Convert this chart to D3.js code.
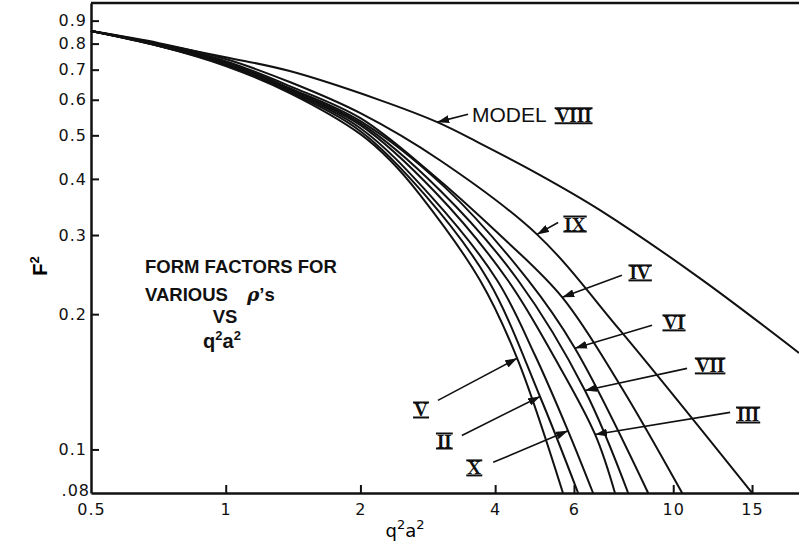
<!DOCTYPE html>
<html>
<head>
<meta charset="utf-8">
<script src="https://cdn.jsdelivr.net/npm/d3@7"></script>
<style>
  body { margin: 0; background: #fff; }
  svg { display: block; }
  .tick text { font-family: "DejaVu Sans", sans-serif; font-size: 16px; letter-spacing: 1px; fill: #111; }
</style>
</head>
<body>
<div id="chart-area"></div>
<script>
// q^2 a^2 vs F^2
var modelVIII = [[0.5,0.853],[1.0,0.746],[1.39,0.695],[2.21,0.599],[2.97,0.535],[3.70,0.480],[5.04,0.408],[6.86,0.341],[11.5,0.240],[19.1,0.164]];
var modelIX   = [[0.5,0.853],[0.71,0.802],[1.0,0.739],[1.39,0.657],[2.0,0.560],[3.01,0.440],[4.96,0.301],[7.61,0.184],[15.0,0.08]];
var modelIV   = [[0.5,0.853],[0.71,0.798],[1.0,0.7314],[1.39,0.6435],[2.0,0.546],[2.86,0.414],[4.10,0.300],[5.65,0.218],[7.61,0.139],[10.47,0.08]];
var modelVI   = [[0.5,0.853],[0.71,0.794],[1.0,0.7275],[1.39,0.637],[2.0,0.5377],[3.09,0.383],[4.74,0.238],[6.03,0.168],[8.79,0.08]];
var modelVII  = [[0.5,0.853],[0.71,0.794],[1.0,0.724],[1.39,0.6336],[2.0,0.5322],[3.01,0.3775],[4.50,0.238],[6.35,0.1353],[7.93,0.08]];
var modelIII  = [[0.5,0.853],[0.71,0.794],[1.0,0.724],[1.39,0.630],[2.0,0.527],[2.94,0.3736],[4.27,0.238],[5.44,0.1595],[6.69,0.108],[7.41,0.08]];
var modelX    = [[0.5,0.853],[0.71,0.790],[1.0,0.720],[1.39,0.627],[2.0,0.5186],[2.86,0.368],[4.04,0.238],[4.91,0.162],[5.82,0.110],[6.62,0.08]];
var modelII   = [[0.5,0.853],[0.71,0.790],[1.0,0.7165],[1.39,0.624],[2.0,0.5107],[2.79,0.368],[3.86,0.238],[5.04,0.131],[6.13,0.08]];
var modelV    = [[0.5,0.853],[0.71,0.790],[1.0,0.713],[1.39,0.6207],[2.0,0.503],[2.33,0.440],[2.72,0.368],[3.70,0.238],[4.48,0.1595],[5.67,0.08]];

var series = [modelVIII, modelIX, modelIV, modelVI, modelVII, modelIII, modelX, modelII, modelV];

var xTicks = [0.5, 1, 2, 4, 6, 10, 15];
var xTickLabels = ["0.5", "1", "2", "4", "6", "10", "15"];
var yTicks = [0.9, 0.8, 0.7, 0.6, 0.5, 0.4, 0.3, 0.2, 0.1, 0.08];
var yTickLabels = ["0.9", "0.8", "0.7", "0.6", "0.5", "0.4", "0.3", "0.2", "0.1", ".08"];

// curve labels: text position, arrow tail, arrow tip (data units)
var labelNames = ["VIII", "IX", "IV", "VI", "VII", "III", "V", "II", "X"];
var labelPos  = [[3.55,0.535],[6.03,0.307],[8.43,0.239],[10.04,0.185],[12.09,0.1484],[14.7,0.1154],[2.73,0.1184],[3.08,0.101],[3.59,0.088]];
var arrowFrom = [[3.48,0.557],[5.53,0.320],[7.68,0.244],[8.97,0.189],[10.74,0.1515],[13.4,0.1209],[2.98,0.1286],[3.37,0.1074],[3.96,0.0936]];
var arrowTo   = [[2.97,0.535],[4.96,0.301],[5.65,0.218],[6.03,0.168],[6.35,0.1353],[6.69,0.108],[4.48,0.1595],[5.04,0.1312],[5.82,0.110]];

var svg = d3.select("#chart-area").append("svg")
    .attr("width", 799)
    .attr("height", 550);

var x = d3.scaleLog()
    .domain([0.5, 19.1])
    .range([91, 799]);

var y = d3.scaleLog()
    .domain([0.08, 0.985])
    .range([493, 3]);

svg.append("defs").append("marker")
    .attr("id", "head")
    .attr("viewBox", "0 0 12 8")
    .attr("refX", 12)
    .attr("refY", 4)
    .attr("markerWidth", 12)
    .attr("markerHeight", 8)
    .attr("markerUnits", "userSpaceOnUse")
    .attr("orient", "auto")
    .append("path")
    .attr("d", "M0,0 L12,4 L0,8 z")
    .attr("fill", "#111");

// axes, ticks pointing inward
var yAxis = d3.axisLeft(y)
    .tickValues(yTicks)
    .tickSizeInner(-8)
    .tickSizeOuter(0)
    .tickPadding(4)
    .tickFormat((d, i) => yTickLabels[i]);

var xAxis = d3.axisBottom(x)
    .tickValues(xTicks)
    .tickSizeInner(-8)
    .tickSizeOuter(0)
    .tickPadding(11)
    .tickFormat((d, i) => xTickLabels[i]);

var gy = svg.append("g")
    .attr("transform", "translate(91,0)")
    .call(yAxis);

var gx = svg.append("g")
    .attr("transform", "translate(0,493)")
    .call(xAxis);

svg.selectAll(".domain").attr("stroke", "#111").attr("stroke-width", 2.5);
svg.selectAll(".tick line").attr("stroke", "#111").attr("stroke-width", 2);
gx.selectAll(".tick").filter(d => d === 0.5).select("line").remove();
gy.selectAll(".tick").filter(d => d === 0.08).select("line").remove();
gy.selectAll(".tick").filter(d => d === 0.08).select("text").attr("dx", 3).attr("dy", "0.15em");

// top frame line
svg.append("line")
    .attr("x1", 91).attr("x2", 799)
    .attr("y1", y(0.985)).attr("y2", y(0.985))
    .attr("stroke", "#111")
    .attr("stroke-width", 2.5);

// curves
var line = d3.line()
    .x(d => x(d[0]))
    .y(d => y(d[1]))
    .curve(d3.curveCatmullRom.alpha(0.5));

svg.append("g")
    .selectAll("path")
    .data(series)
    .enter()
    .append("path")
    .attr("d", line)
    .attr("fill", "none")
    .attr("stroke", "#111")
    .attr("stroke-width", 2);

// arrows
svg.append("g")
    .selectAll("line")
    .data(labelNames)
    .enter()
    .append("line")
    .attr("x1", (d, i) => x(arrowFrom[i][0]))
    .attr("y1", (d, i) => y(arrowFrom[i][1]))
    .attr("x2", (d, i) => x(arrowTo[i][0]))
    .attr("y2", (d, i) => y(arrowTo[i][1]))
    .attr("stroke", "#111")
    .attr("stroke-width", 1.6)
    .attr("marker-end", "url(#head)");

// roman numeral labels with bars above and below
var labels = svg.append("g");
labelNames.forEach((name, i) => {
    var px = x(labelPos[i][0]), py = y(labelPos[i][1]);
    var g = labels.append("g");
    var numX = px;
    if (name === "VIII") {
        var m = g.append("text")
            .attr("x", px).attr("y", py)
            .attr("font-family", "Liberation Sans, sans-serif")
            .attr("font-size", 21)
            .attr("fill", "#111")
            .text("MODEL");
        numX = px + m.node().getBBox().width + 9;
    }
    var t = g.append("text")
        .attr("x", numX).attr("y", py)
        .attr("text-anchor", name === "VIII" ? "start" : "middle")
        .attr("font-family", "Liberation Serif, serif")
        .attr("font-weight", "bold")
        .attr("font-size", 19)
        .attr("fill", "#111")
        .text(name);
    var b = t.node().getBBox();
    [py - 14, py + 1].forEach(yy => {
        g.append("line")
            .attr("x1", b.x - 1).attr("x2", b.x + b.width + 1)
            .attr("y1", yy).attr("y2", yy)
            .attr("stroke", "#111")
            .attr("stroke-width", 2);
    });
});

// axis titles
svg.append("text")
    .attr("transform", "translate(47,266) rotate(-90)")
    .attr("text-anchor", "middle")
    .attr("font-family", "Liberation Sans, sans-serif")
    .attr("font-weight", "bold")
    .attr("font-size", 20)
    .html("F<tspan dy='-8' font-size='13'>2</tspan>");

svg.append("text")
    .attr("x", 405).attr("y", 537)
    .attr("text-anchor", "middle")
    .attr("font-family", "DejaVu Sans, sans-serif")
    .attr("font-size", 18)
    .html("q<tspan dy='-8' font-size='13'>2</tspan><tspan dy='8'>a</tspan><tspan dy='-8' font-size='13'>2</tspan>");

// caption block
var cap = svg.append("g")
    .attr("font-family", "Liberation Sans, sans-serif")
    .attr("font-weight", "bold")
    .attr("font-size", 18.5)
    .attr("fill", "#111");
cap.append("text").attr("x", 145).attr("y", 273).text("FORM  FACTORS  FOR");
cap.append("text").attr("x", 145).attr("y", 301).text("VARIOUS");
cap.append("text").attr("x", 247).attr("y", 301)
    .html("<tspan font-family='DejaVu Serif, serif' font-style='italic'>ρ</tspan>’s");
cap.append("text").attr("x", 225).attr("y", 323).attr("text-anchor", "middle").text("VS");
cap.append("text").attr("x", 222).attr("y", 348).attr("text-anchor", "middle")
    .attr("font-size", 20)
    .html("q<tspan dy='-8' font-size='13'>2</tspan><tspan dy='8'>a</tspan><tspan dy='-8' font-size='13'>2</tspan>");
</script>
</body>
</html>
